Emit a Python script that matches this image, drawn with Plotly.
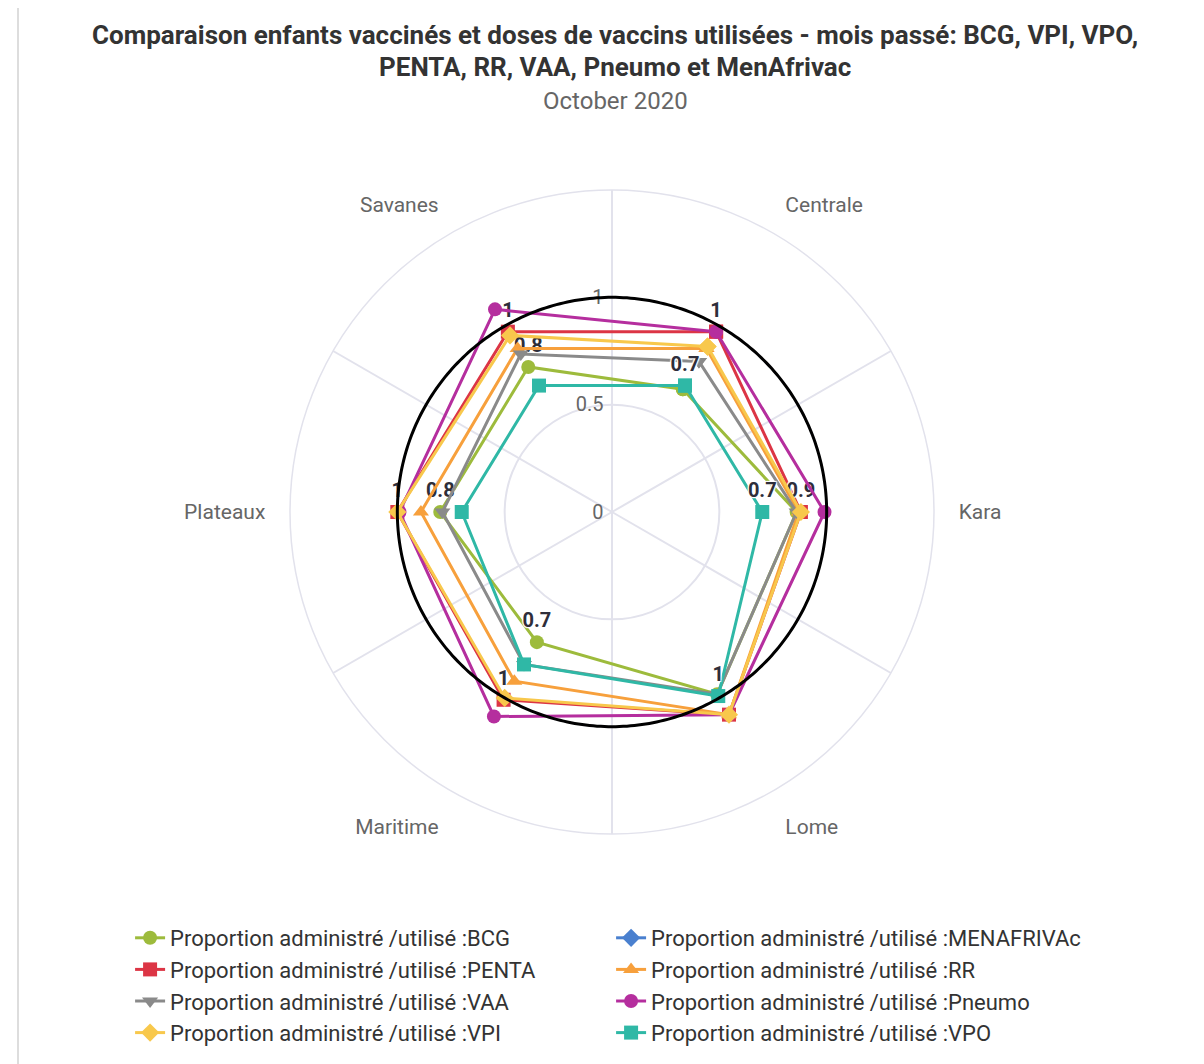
import numpy as np
import plotly.graph_objects as go

# ---------------- data ----------------
categories = ["Centrale", "Kara", "Lome", "Maritime", "Plateaux", "Savanes"]

bcg = [0.66, 0.86, 0.98, 0.70, 0.80, 0.78]
menafrivac = [None, None, None, None, None, None]
penta = [0.97, 0.88, 1.09, 1.01, 1.00, 0.97]
rr = [0.88, 0.87, 1.09, 0.91, 0.89, 0.88]
vaa = [0.81, 0.86, 0.98, 0.82, 0.79, 0.85]
pneumo = [0.97, 0.99, 1.09, 1.10, 0.99, 1.09]
vpi = [0.89, 0.88, 1.09, 1.00, 1.00, 0.95]
vpo = [0.68, 0.70, 0.99, 0.82, 0.70, 0.68]

series_names = ["BCG", "MENAFRIVAc", "PENTA", "RR", "VAA", "Pneumo", "VPI", "VPO"]
series_values = [bcg, menafrivac, penta, rr, vaa, pneumo, vpi, vpo]

# categories where a data label is visible (others hidden by overlap)
label_shown = {
    "BCG": ["Savanes", "Maritime", "Plateaux"],
    "PENTA": ["Savanes", "Centrale", "Kara", "Maritime", "Plateaux"],
    "VPO": ["Centrale", "Kara", "Lome"],
}

reference_value = 1
radial_ticks = [0, 0.5, 1]
radial_max = 1.5

title_lines = [
    "Comparaison enfants vaccinés et doses de vaccins utilisées - mois passé: BCG, VPI, VPO,",
    "PENTA, RR, VAA, Pneumo et MenAfrivac",
]
subtitle = "October 2020"

# ---------------- style ----------------
colors = {
    "BCG": "#9dbb3c",
    "MENAFRIVAc": "#4a80cf",
    "PENTA": "#dc3545",
    "RR": "#f7a03c",
    "VAA": "#8a8a8a",
    "Pneumo": "#b52e9e",
    "VPI": "#f8c84c",
    "VPO": "#2fb8a6",
}
symbols = {
    "BCG": "circle",
    "MENAFRIVAc": "diamond",
    "PENTA": "square",
    "RR": "triangle-up",
    "VAA": "triangle-down",
    "Pneumo": "circle",
    "VPI": "diamond",
    "VPO": "square",
}

W, H = 1204, 1064
OFF = 8  # page body margin
cx, cy, R = 612 - OFF, 512 - OFF, 322
dom_x = [(cx - R) / W, (cx + R) / W]
dom_y = [(H - (cy + R)) / H, (H - (cy - R)) / H]
grid_color = "#e2e2ec"
FONT = "Roboto, 'Noto Sans', sans-serif"

fig = go.Figure()

# invisible anchor so the grid subplot is drawn
fig.add_trace(go.Scatterpolar(
    subplot="polar", r=[0], theta=[0], mode="markers",
    marker=dict(opacity=0, size=1), showlegend=False, hoverinfo="skip",
))

for name, vals in zip(series_names, series_values):
    shown = label_shown.get(name, [])
    texts = []
    for c, v in zip(categories, vals):
        if c in shown and v is not None:
            texts.append(f"{round(v, 1):g}")
        else:
            texts.append("")
    fig.add_trace(go.Scatterpolar(
        subplot="polar2",
        r=list(vals) + [vals[0]],
        theta=categories + [categories[0]],
        text=texts + [""],
        mode="lines+markers+text",
        textposition="top center",
        textfont=dict(family=FONT, size=20, color="#2e2e3a", weight="bold",
                      shadow="1px 1px 1px #fff, -1px -1px 1px #fff, 1px -1px 1px #fff, -1px 1px 1px #fff"),
        name=f"Proportion administré /utilisé :{name}",
        line=dict(color=colors[name], width=3),
        marker=dict(color=colors[name], symbol=symbols[name], size=14),
        cliponaxis=False,
        hoverinfo="skip",
    ))

# reference circle at value 1
circle_theta = np.linspace(0, 360, 361)
fig.add_trace(go.Scatterpolar(
    subplot="polar3",
    r=[reference_value] * len(circle_theta),
    theta=circle_theta,
    mode="lines",
    line=dict(color="#000000", width=3),
    showlegend=False,
    hoverinfo="skip",
))

tx = (615 - OFF) / W
annotations = [
    dict(text=title_lines[0], x=tx, y=1 - (35 - OFF) / H),
    dict(text=title_lines[1], x=tx, y=1 - (67 - OFF) / H),
]
annotations = [dict(a, xref="paper", yref="paper", xanchor="center", yanchor="middle", showarrow=False,
                    font=dict(family=FONT, size=26, color="#333333", weight="bold")) for a in annotations]
annotations.append(dict(
    text=subtitle, x=tx, y=1 - (101 - OFF) / H, xref="paper", yref="paper",
    xanchor="center", yanchor="middle", showarrow=False,
    font=dict(family=FONT, size=24, color="#666666"),
))

fig.update_layout(
    width=W, height=H,
    margin=dict(l=0, r=0, t=0, b=0),
    paper_bgcolor="white",
    font=dict(family=FONT, color="#333333"),
    annotations=annotations,
    polar=dict(
        domain=dict(x=dom_x, y=dom_y),
        bgcolor="white",
        angularaxis=dict(
            type="linear", rotation=90, direction="clockwise",
            tickvals=[0, 60, 120, 180, 240, 300], showticklabels=False, ticks="",
            gridcolor=grid_color, gridwidth=1.5, showline=True, linecolor=grid_color, linewidth=1.5,
        ),
        radialaxis=dict(
            range=[0, radial_max], tickvals=radial_ticks,
            ticktext=[f"{t:g}" for t in radial_ticks],
            angle=90, tickangle=90, side="counterclockwise",
            showline=False, ticks="outside", ticklen=1, tickcolor="rgba(0,0,0,0)",
            gridcolor=grid_color, gridwidth=1.5,
            tickfont=dict(family=FONT, size=20, color="#666666"),
        ),
    ),
    polar2=dict(
        domain=dict(x=dom_x, y=dom_y),
        bgcolor="rgba(0,0,0,0)",
        angularaxis=dict(
            type="category", categoryarray=categories, rotation=60, direction="clockwise",
            showgrid=False, showline=False, ticks="outside", ticklen=20,
            tickcolor="rgba(0,0,0,0)",
            tickfont=dict(family=FONT, size=21, color="#666666"),
        ),
        radialaxis=dict(range=[0, radial_max], visible=False),
    ),
    polar3=dict(
        domain=dict(x=dom_x, y=dom_y),
        bgcolor="rgba(0,0,0,0)",
        angularaxis=dict(visible=False, rotation=90, direction="clockwise"),
        radialaxis=dict(range=[0, radial_max], visible=False),
    ),
    legend=dict(
        orientation="h", x=0.1014, xanchor="left", y=1 - 909 / H, yanchor="top",
        entrywidth=436, entrywidthmode="pixels",
        font=dict(family=FONT, size=22, color="#333333"),
        tracegroupgap=0,
    ),
    shapes=[dict(type="line", xref="paper", yref="paper", x0=(18 - OFF) / W, x1=(18 - OFF) / W, y0=0, y1=1,
                 line=dict(color="#dddddd", width=2))],
)

fig.write_html("out.html")
